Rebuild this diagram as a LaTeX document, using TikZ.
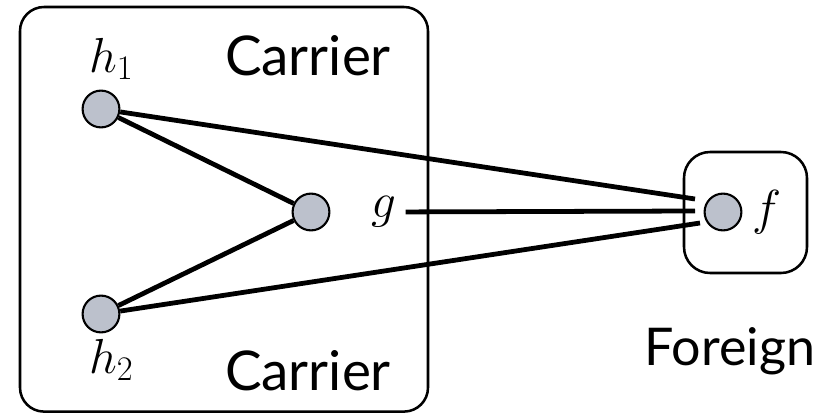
\RequirePackage{fix-cm}
\documentclass[tikz,border=0pt]{standalone}
\usepackage{fontspec}
\setsansfont{Lato}
\definecolor{vertexgray}{RGB}{188,193,204}
\begin{document}
\begin{tikzpicture}[
    vertex/.style={circle, draw, line width=1.5pt, fill=vertexgray, minimum size=0.92cm, inner sep=0pt},
    region/.style={draw, line width=1.8pt, rounded corners=0.6cm},
    edge/.style={line width=3.4pt},
    mathlab/.style={font=\fontsize{35}{42}\selectfont},
    regionlab/.style={font=\sffamily\fontsize{39}{46}\selectfont, anchor=base, inner sep=0pt}
]
	\useasboundingbox (0,0) rectangle (20.6,10.35);

	% the two regions
	\draw[region] (0.5,0.06) rectangle (10.7,10.175);
	\draw[region, rounded corners=0.65cm] (17.1,3.525) rectangle (20.175,6.55);

	\node[regionlab] (cartop) at (7.7,8.475) {Carrier};
	\node[regionlab] (carbot) at (7.7,0.6) {Carrier};
	\node[regionlab, font=\sffamily\fontsize{37}{44}\selectfont] (foreign) at (18.25,1.225) {Foreign};

	% vertices
	\node[vertex] (h1) at (2.525,7.625) {};
	\node[vertex] (h2) at (2.525,2.5) {};
	\node[vertex] (g) at (7.775,5.05) {};
	\node[vertex] (f) at (18.075,5.05) {};

	\node[mathlab] (h1lab) at (2.78,8.88) {$h_1$};
	\node[mathlab] (h2lab) at (2.78,1.35) {$h_2$};
	\node[mathlab] (glab) at (9.6,5.05) {$g$};
	\node[mathlab] (flab) at (19.18,5.05) {$f$};

	% loose ends in front of f
	\coordinate (fin1) at (17.375,5.375);
	\coordinate (fin2) at (17.375,5.075);
	\coordinate (fin3) at (17.5,4.775);

	\draw[edge] (h1) -- (g);
	\draw[edge] (h2) -- (g);
	\draw[edge] (h1) -- (fin1);
	\draw[edge, shorten <=3pt] (glab) -- (fin2);
	\draw[edge] (h2) -- (fin3);

\end{tikzpicture}
\end{document}
